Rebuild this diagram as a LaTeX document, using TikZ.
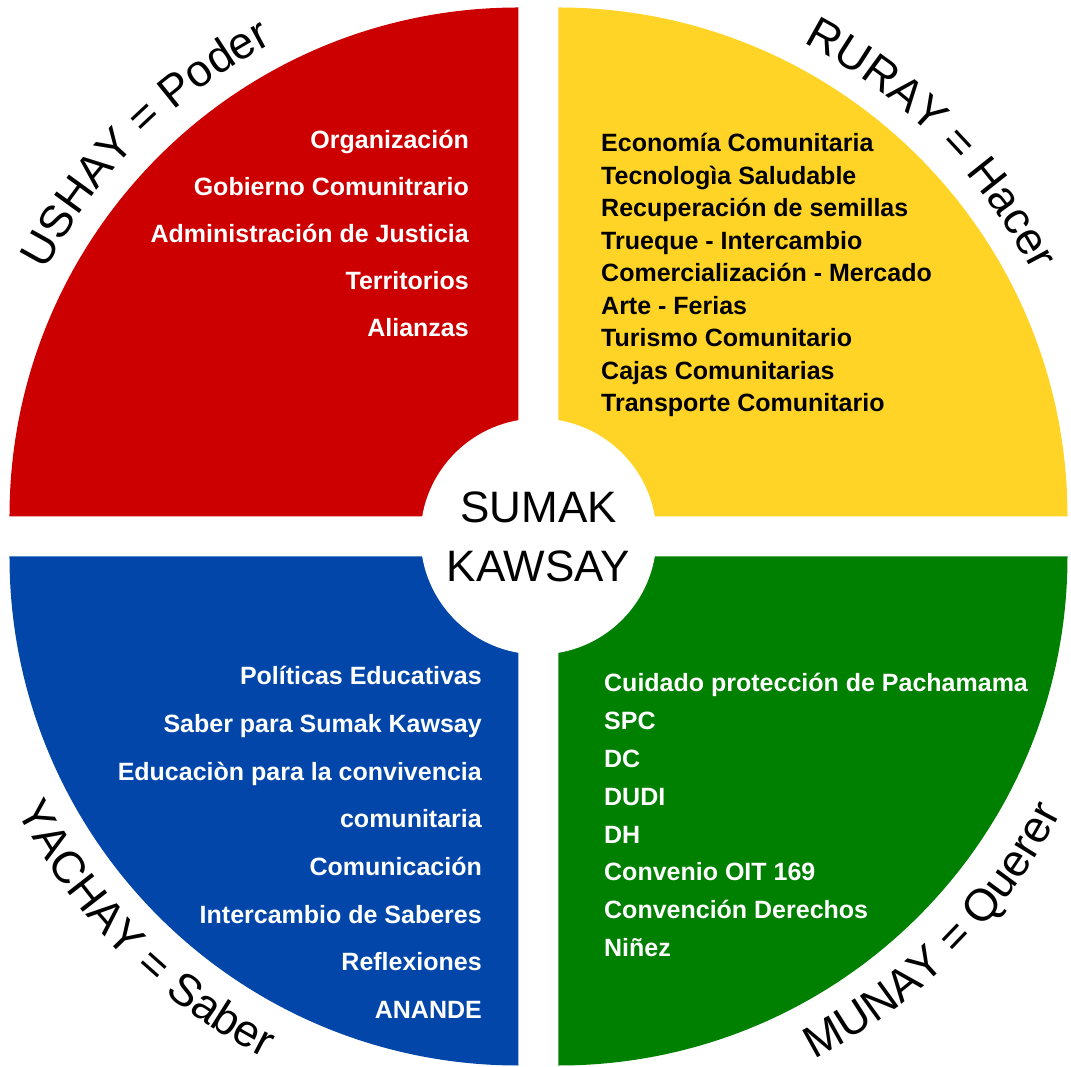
\documentclass[tikz,border=0pt]{standalone}
\usepackage{fontspec}
\setmainfont{Liberation Sans}
\usepackage{xcolor}
\usepackage{tikz}
\usetikzlibrary{decorations.text}
\definecolor{ushay}{RGB}{204, 0, 0}
\definecolor{ruray}{RGB}{255, 212, 38}
\definecolor{yachay}{RGB}{2, 70, 170}
\definecolor{munay}{RGB}{0, 128, 0}
\newcommand{\itemfont}{\fontsize{25}{30}\selectfont\bfseries}
\newcommand{\centrefont}{\fontsize{44}{59}\selectfont}
\newcommand{\rimfont}{\fontsize{45}{52}\selectfont}

\begin{document}
\begin{tikzpicture}[x=1pt, y=1pt,
		item/.style={font=\itemfont, inner sep=0pt},
		rimlabel/.style={decorate, decoration={text along path, text align=center, text={#1}}}]
			\def\R{509}
			\def\g{20}
			\def\rin{118}
			\useasboundingbox (-538.5,-530.5) rectangle (532.5,536.5);

			% --- Quarter wedges ---
			\fill[ushay]  (-\g, \g)  -- ++(-\R, 0) arc[start angle=180, end angle=90, radius=\R] -- cycle;
			\fill[ruray]  (\g, \g)   -- ++(0, \R)  arc[start angle=90, end angle=0, radius=\R] -- cycle;
			\fill[yachay] (-\g, -\g) -- ++(0, -\R) arc[start angle=270, end angle=180, radius=\R] -- cycle;
			\fill[munay]  (\g, -\g)  -- ++(\R, 0)  arc[start angle=0, end angle=-90, radius=\R] -- cycle;

			% --- Centre disc ---
			\node[circle, fill=white, minimum size=2*\rin, inner sep=0pt, align=center, font=\centrefont] (sumak) at (0, 0) {SUMAK\\KAWSAY};

			% --- Labels round the rim ---
			\path[rimlabel={|\rimfont|USHAY = Poder}]  (-\g, \g)  ++(175:533) arc[start angle=175, end angle=95, radius=533];
			\path[rimlabel={|\rimfont|RURAY = Hacer}]  (\g, \g)   ++(85:533)  arc[start angle=85, end angle=5, radius=533];
			\path[rimlabel={|\rimfont|YACHAY = Saber}] (-\g, -\g) ++(185:562) arc[start angle=185, end angle=265, radius=562];
			\path[rimlabel={|\rimfont|MUNAY = Querer}] (\g, -\g)  ++(275:564) arc[start angle=275, end angle=355, radius=564];

			% --- Lists ---
			\foreach \t [count=\i] in {Organización, Gobierno Comunitrario, Administración de Justicia, Territorios, Alianzas}
				\node[item, text=white, anchor=base east] (ushay\i) at (-69.5, {387.5-47*(\i-1)}) {\t};

			\foreach \t [count=\i] in {Economía Comunitaria, Tecnologìa Saludable, Recuperación de semillas, Trueque - Intercambio, Comercialización - Mercado, Arte - Ferias, Turismo Comunitario, Cajas Comunitarias, Transporte Comunitario}
				\node[item, text=black, anchor=base west] (ruray\i) at (62.5, {384.5-32.5*(\i-1)}) {\t};

			\foreach \t [count=\i] in {Políticas Educativas, Saber para Sumak Kawsay, Educaciòn para la convivencia, comunitaria, Comunicación, Intercambio de Saberes, Reflexiones, ANANDE}
				\node[item, text=white, anchor=base east] (yachay\i) at (-56.5, {-148.5-47.6*(\i-1)}) {\t};

			\foreach \t [count=\i] in {Cuidado protección de Pachamama, SPC, DC, DUDI, DH, Convenio OIT 169, Convención Derechos, Niñez}
				\node[item, text=white, anchor=base west] (munay\i) at (65.5, {-155.5-37.8*(\i-1)}) {\t};
		\end{tikzpicture}
\end{document}
